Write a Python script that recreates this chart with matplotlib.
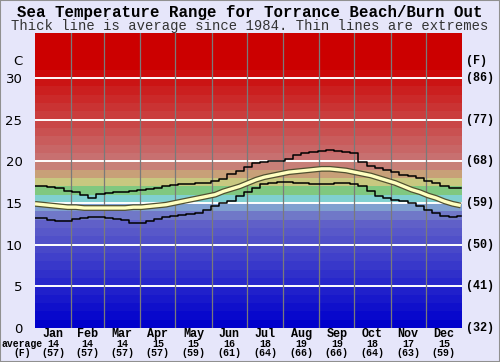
import matplotlib
matplotlib.use("Agg")
import matplotlib.pyplot as plt
import numpy as np
from matplotlib.patches import Rectangle

# chart values (weekly samples, deg C)
title = "Sea Temperature Range for Torrance Beach/Burn Out"
subtitle = "Thick line is average since 1984. Thin lines are extremes"

months = ["Jan", "Feb", "Mar", "Apr", "May", "Jun",
          "Jul", "Aug", "Sep", "Oct", "Nov", "Dec"]
month_avg_c = [14, 14, 14, 15, 15, 16, 18, 19, 19, 18, 17, 15]
month_avg_f = [57, 57, 57, 57, 59, 61, 64, 66, 66, 64, 63, 59]
month_days = [31, 28, 31, 30, 31, 30, 31, 31, 30, 31, 30, 31]

c_ticks = [0, 5, 10, 15, 20, 25, 30]
f_labels = ["(32)", "(41)", "(50)", "(59)", "(68)", "(77)", "(86)"]

sample_day = np.arange(0, 365, 7)

temp_max = [17.0, 17.0, 16.9, 16.8, 16.4, 16.3, 16.0, 15.6, 16.1, 16.2,
            16.3, 16.3, 16.4, 16.6, 16.7, 16.8, 17.0, 17.1, 17.3, 17.3,
            17.4, 17.4, 17.6, 17.9, 18.5, 18.8, 19.3, 19.8, 19.9, 20.0,
            20.0, 20.3, 20.8, 21.0, 21.1, 21.2, 21.4, 21.2, 21.1, 21.0,
            19.9, 19.4, 19.2, 19.0, 18.7, 18.4, 18.2, 18.0, 17.6, 17.4,
            17.0, 16.8, 16.8]

temp_avg = [14.9, 14.8, 14.7, 14.6, 14.5, 14.5, 14.4, 14.4, 14.4, 14.4,
            14.4, 14.4, 14.5, 14.5, 14.6, 14.7, 14.8, 15.0, 15.2, 15.4,
            15.6, 15.8, 16.0, 16.4, 16.7, 17.0, 17.4, 17.8, 18.1, 18.3,
            18.5, 18.7, 18.8, 18.9, 19.0, 19.1, 19.1, 19.0, 18.9, 18.7,
            18.5, 18.3, 18.0, 17.7, 17.4, 17.0, 16.6, 16.3, 15.9, 15.6,
            15.2, 14.9, 14.7]

temp_min = [13.2, 13.2, 13.0, 12.9, 12.9, 13.1, 13.2, 13.3, 13.3, 13.2,
            13.1, 13.0, 12.6, 12.6, 12.9, 13.1, 13.3, 13.4, 13.6, 13.7,
            13.8, 14.2, 14.6, 15.0, 15.2, 15.8, 16.3, 16.8, 17.3, 17.4,
            17.5, 17.5, 17.4, 17.4, 17.3, 17.3, 17.3, 17.4, 17.4, 17.3,
            17.0, 16.4, 15.8, 15.6, 15.4, 15.3, 15.0, 14.7, 14.2, 13.8,
            13.4, 13.3, 13.4]

W, H = 500, 362
BG = "#e6e6fa"


def band_color(t):
    # one colour per 1 degree band
    special = {13: (112, 120, 200), 14: (128, 160, 208), 15: (128, 208, 208),
               16: (128, 200, 128), 17: (200, 200, 128), 18: (200, 160, 120),
               19: (200, 128, 120)}
    if t in special:
        r, g, b = special[t]
    elif t < 13:
        r, g, b = 8 * t, 8 * t, 204 - t * 0.3
    else:
        k = max(0.0, (31 - t) / 11.0)
        r, g, b = 200 + 4 * (1 - k), 112 * k, 112 * k
    return (r / 255, g / 255, b / 255)


fig = plt.figure(figsize=(W / 100, H / 100), dpi=100, facecolor=BG)
ax = fig.add_axes([35 / W, 1 - 328 / H, 427 / W, 295 / H])

ymax = 35.4
for t in range(0, 36):
    ax.axhspan(t, t + 1, color=band_color(t), lw=0, zorder=0)

for t in c_ticks[1:]:
    ax.axhline(t, color="white", lw=1.4, zorder=1)

starts = np.concatenate([[0], np.cumsum(month_days)])
for d in starts[1:-1]:
    ax.axvline(d, color="#7a7a7a", lw=0.9, zorder=1)

ax.step(sample_day, temp_max, where="mid", color="black", lw=1.1, zorder=3)
ax.step(sample_day, temp_min, where="mid", color="black", lw=1.1, zorder=3)
ax.plot(sample_day, temp_avg, color="#505030", lw=4.2, zorder=4,
        solid_capstyle="butt")
ax.plot(sample_day, temp_avg, color="#ffffc0", lw=2.4, zorder=5,
        solid_capstyle="butt")

ax.set_xlim(0, 365)
ax.set_ylim(0, ymax)
ax.set_xticks([])
ax.set_yticks(c_ticks)
ax.set_yticklabels([str(t) for t in c_ticks], fontsize=9.5,
                   family="DejaVu Sans")
ax.tick_params(axis="y", length=0, pad=9)
for s in ax.spines.values():
    s.set_visible(False)

ytr = ax.get_yaxis_transform()
for t, lab in zip(c_ticks, f_labels):
    ax.text(1.009, t, lab, transform=ytr, ha="left", va="center",
            fontsize=8.5, family="Liberation Mono", weight="bold")
ax.text(-0.03, 32.0, "C", transform=ytr, ha="right", va="center",
        fontsize=9.5, family="DejaVu Sans")
ax.text(1.009, 32.0, "(F)", transform=ytr, ha="left", va="center",
        fontsize=8.5, family="Liberation Mono", weight="bold")

fig.text(0.5, 1 - 13 / H, title, ha="center", va="center", fontsize=11.3,
         family="Liberation Mono", weight="bold")
fig.text(0.5, 1 - 26 / H, subtitle, ha="center", va="center", fontsize=10,
         family="Liberation Mono", color="#333333")

xtr = ax.get_xaxis_transform()
fig_y = lambda py: (328 - py) / 295.0
for i, m in enumerate(months):
    mid = (starts[i] + starts[i + 1]) / 2
    ax.text(mid, fig_y(334), m, transform=xtr, ha="center", va="center",
            fontsize=8.5, family="Liberation Mono", weight="bold")
    ax.text(mid, fig_y(344), str(month_avg_c[i]), transform=xtr,
            ha="center", va="center", fontsize=7.2, family="Liberation Mono",
            weight="bold")
    ax.text(mid, fig_y(353), "(%d)" % month_avg_f[i], transform=xtr,
            ha="center", va="center", fontsize=7.2, family="Liberation Mono",
            weight="bold")

fig.text(22 / W, 1 - 344 / H, "average", ha="center", va="center",
         fontsize=7, family="Liberation Mono", weight="bold")
fig.text(22 / W, 1 - 353 / H, "(F)", ha="center", va="center",
         fontsize=7, family="Liberation Mono", weight="bold")

fig.patches.append(Rectangle((0, 0), 1, 1, transform=fig.transFigure,
                             fill=False, edgecolor="#909090", lw=1.5))

fig.savefig("out.png", dpi=100, facecolor=BG)
